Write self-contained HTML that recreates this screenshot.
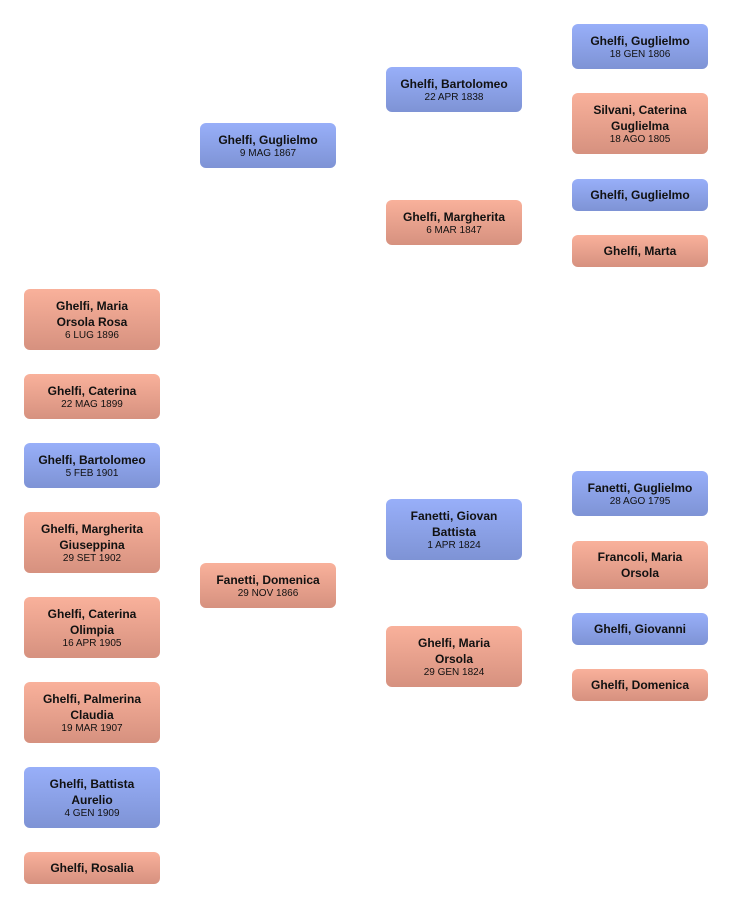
<!DOCTYPE html>
<html><head><meta charset="utf-8"><style>
body{margin:0;width:732px;height:908px;background:#fff;position:relative;font-family:"Liberation Sans",sans-serif;}
.b{position:absolute;width:136px;border-radius:6px;display:flex;flex-direction:column;justify-content:center;align-items:center;text-align:center;color:#111;box-sizing:border-box;}
.m{background:linear-gradient(#98aff9,#7e93d5);}
.f{background:linear-gradient(#f9b19b,#d6917f);}
.n{font-weight:bold;font-size:12px;line-height:16px;}
.d{font-size:10px;line-height:12px;}
</style></head><body>
<div class="b f" style="left:24px;top:289px;height:61px"><div class="n">Ghelfi, Maria<br>Orsola Rosa</div><div class="d">6 LUG 1896</div></div>
<div class="b f" style="left:24px;top:374px;height:45px"><div class="n">Ghelfi, Caterina</div><div class="d">22 MAG 1899</div></div>
<div class="b m" style="left:24px;top:443px;height:45px"><div class="n">Ghelfi, Bartolomeo</div><div class="d">5 FEB 1901</div></div>
<div class="b f" style="left:24px;top:512px;height:61px"><div class="n">Ghelfi, Margherita<br>Giuseppina</div><div class="d">29 SET 1902</div></div>
<div class="b f" style="left:24px;top:597px;height:61px"><div class="n">Ghelfi, Caterina<br>Olimpia</div><div class="d">16 APR 1905</div></div>
<div class="b f" style="left:24px;top:682px;height:61px"><div class="n">Ghelfi, Palmerina<br>Claudia</div><div class="d">19 MAR 1907</div></div>
<div class="b m" style="left:24px;top:767px;height:61px"><div class="n">Ghelfi, Battista<br>Aurelio</div><div class="d">4 GEN 1909</div></div>
<div class="b f" style="left:24px;top:852px;height:32px"><div class="n">Ghelfi, Rosalia</div></div>

<div class="b m" style="left:200px;top:123px;height:45px"><div class="n">Ghelfi, Guglielmo</div><div class="d">9 MAG 1867</div></div>
<div class="b f" style="left:200px;top:563px;height:45px"><div class="n">Fanetti, Domenica</div><div class="d">29 NOV 1866</div></div>

<div class="b m" style="left:386px;top:67px;height:45px"><div class="n">Ghelfi, Bartolomeo</div><div class="d">22 APR 1838</div></div>
<div class="b f" style="left:386px;top:200px;height:45px"><div class="n">Ghelfi, Margherita</div><div class="d">6 MAR 1847</div></div>
<div class="b m" style="left:386px;top:499px;height:61px"><div class="n">Fanetti, Giovan<br>Battista</div><div class="d">1 APR 1824</div></div>
<div class="b f" style="left:386px;top:626px;height:61px"><div class="n">Ghelfi, Maria<br>Orsola</div><div class="d">29 GEN 1824</div></div>

<div class="b m" style="left:572px;top:24px;height:45px"><div class="n">Ghelfi, Guglielmo</div><div class="d">18 GEN 1806</div></div>
<div class="b f" style="left:572px;top:93px;height:61px"><div class="n">Silvani, Caterina<br>Guglielma</div><div class="d">18 AGO 1805</div></div>
<div class="b m" style="left:572px;top:179px;height:32px"><div class="n">Ghelfi, Guglielmo</div></div>
<div class="b f" style="left:572px;top:235px;height:32px"><div class="n">Ghelfi, Marta</div></div>
<div class="b m" style="left:572px;top:471px;height:45px"><div class="n">Fanetti, Guglielmo</div><div class="d">28 AGO 1795</div></div>
<div class="b f" style="left:572px;top:541px;height:48px"><div class="n">Francoli, Maria<br>Orsola</div></div>
<div class="b m" style="left:572px;top:613px;height:32px"><div class="n">Ghelfi, Giovanni</div></div>
<div class="b f" style="left:572px;top:669px;height:32px"><div class="n">Ghelfi, Domenica</div></div>
</body></html>
